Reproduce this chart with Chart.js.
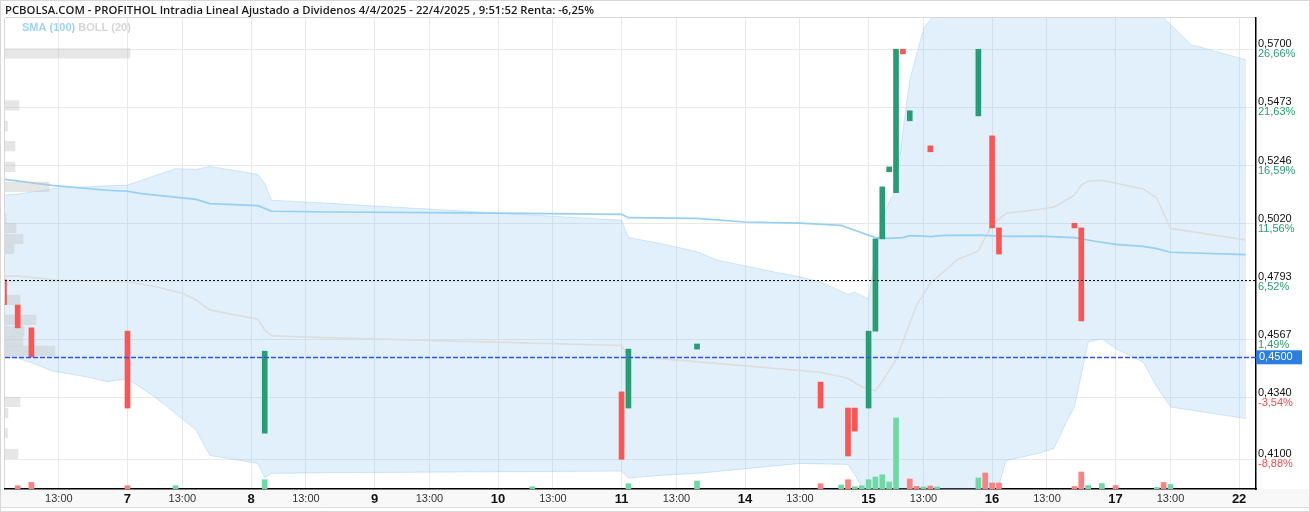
<!DOCTYPE html>
<html>
<head>
<meta charset="utf-8">
<title>PROFITHOL intradia</title>
<script src="https://cdn.jsdelivr.net/npm/chart.js@4.4.1/dist/chart.umd.min.js"></script>
<style>
  html, body { margin: 0; padding: 0; background: #fff; }
</style>
</head>
<body>
<canvas id="priceChart" width="1310" height="512"></canvas>
<script>
// Sessions on the x axis, 30 minute bars (9:00 .. 17:30 = 18 bars per session)
const days = ['4', '7', '8', '9', '10', '11', '14', '15', '16', '17', '22'];
const barsPerDay = 18;
const middaySlot = 8; // 13:00

// Right axis ticks and the % change labels printed under them
const priceTicks = [0.4100, 0.4340, 0.4567, 0.4793, 0.5020, 0.5246, 0.5473, 0.5700];
const pctLabels = ['-8,88%', '-3,54%', '1,49%', '6,52%', '11,56%', '16,59%', '21,63%', '26,66%'];
const lastPrice = 0.45;
const refPrice = 0.48;

// Candle bodies (bar index, open, close)
const candleBar   = [0, 2, 4, 18, 38, 90, 91, 101, 119, 123, 124, 126, 127, 128, 129, 130, 131, 132, 135, 142, 144, 145, 156, 157];
const candleOpen  = [0.4800, 0.4702, 0.4613, 0.4600, 0.4202, 0.4363, 0.4300, 0.4530, 0.4401, 0.4300, 0.4300, 0.4300, 0.4600, 0.4960, 0.5222, 0.5140, 0.5700, 0.5421, 0.5323, 0.5440, 0.5362, 0.5003, 0.5021, 0.5003];
const candleClose = [0.4703, 0.4613, 0.4500, 0.4300, 0.4522, 0.4100, 0.4530, 0.4550, 0.4300, 0.4113, 0.4210, 0.4600, 0.4960, 0.5163, 0.5241, 0.5700, 0.5682, 0.5460, 0.5300, 0.5700, 0.5003, 0.4901, 0.5003, 0.4640];

// Volume (thousand shares) and direction vs previous close
const volBar = [2, 4, 18, 25, 38, 77, 91, 101, 119, 122, 123, 124, 125, 126, 127, 128, 129, 130, 132, 133, 134, 135, 136, 142, 143, 144, 145, 156, 157, 158, 160, 162, 168, 169, 170];
const volK   = [3.3, 6.7, 3.3, 3.3, 9.3, 2.3, 5.3, 8, 5.3, 4, 9.3, 2.3, 3.3, 9.3, 12, 14.3, 7, 71, 10, 2.7, 2, 3, 2, 11, 16, 6, 6, 2.5, 17, 3.5, 5.5, 3.5, 1.5, 6.5, 4.5];
const volUp  = [0, 0, 0, 1, 1, 1, 1, 1, 0, 1, 0, 1, 1, 1, 1, 1, 1, 1, 0, 0, 1, 0, 1, 1, 0, 0, 0, 0, 0, 1, 1, 0, 1, 0, 1];

// Volume by price (left side profile)
const profPrice = [0.5684, 0.5481, 0.5400, 0.5322, 0.5241, 0.5163, 0.5040, 0.5003, 0.4960, 0.4921, 0.4722, 0.4644, 0.4600, 0.4561, 0.4523, 0.4324, 0.4280, 0.4203, 0.4121];
const profVol   = [125, 14, 2.5, 10, 10, 44, 1, 11, 18, 9, 15, 31, 19, 18, 50, 15, 3, 2.5, 13];

// SMA (100)
const smaBar = [0, 7, 15, 18, 20, 28, 30, 37, 39, 48, 72, 90, 91, 101, 108, 116, 122, 124, 127, 129, 131, 132, 134, 135, 137, 142, 146, 151, 156, 159, 162, 166, 168, 170, 181];
const smaVal = [0.5193, 0.5169, 0.5150, 0.5146, 0.5137, 0.5114, 0.5098, 0.5090, 0.5068, 0.5065, 0.5061, 0.5056, 0.5043, 0.5040, 0.5026, 0.5022, 0.5013, 0.4994, 0.4965, 0.4962, 0.4965, 0.4973, 0.4971, 0.4969, 0.4974, 0.4975, 0.4970, 0.4971, 0.4965, 0.4951, 0.4939, 0.4931, 0.4922, 0.4908, 0.4899];

// BOLL (20): upper, middle, lower
const upperBar = [0, 2, 8, 18, 25, 28, 30, 37, 38, 39, 48, 90, 91, 96, 101, 104, 113, 116, 119, 123, 124, 126, 127, 128, 129, 130, 131, 132, 133, 134, 136, 139, 142, 145, 151, 156, 158, 160, 162, 166, 168, 169, 173, 181];
const upperVal = [0.5131, 0.5135, 0.5159, 0.5170, 0.5234, 0.5231, 0.5243, 0.5212, 0.5177, 0.5111, 0.5098, 0.5033, 0.4966, 0.4940, 0.4910, 0.4877, 0.4827, 0.4812, 0.4791, 0.4744, 0.4752, 0.4726, 0.4900, 0.5040, 0.5105, 0.5150, 0.5380, 0.5580, 0.5680, 0.5780, 0.5850, 0.5960, 0.6000, 0.6010, 0.6030, 0.5960, 0.5900, 0.5870, 0.5880, 0.5850, 0.5845, 0.5823, 0.5718, 0.5659];
const midBar = [0, 2, 8, 18, 22, 26, 28, 30, 37, 38, 39, 48, 90, 91, 96, 119, 123, 125, 127, 128, 130, 133, 135, 139, 142, 143, 144, 146, 151, 153, 156, 157, 158, 160, 166, 168, 170, 181];
const midVal = [0.4815, 0.4815, 0.4799, 0.4793, 0.4774, 0.4748, 0.4722, 0.4683, 0.4647, 0.4605, 0.4582, 0.4574, 0.4544, 0.4499, 0.4492, 0.4440, 0.4416, 0.4383, 0.4367, 0.4404, 0.4488, 0.4702, 0.4787, 0.4880, 0.4913, 0.4965, 0.5015, 0.5060, 0.5076, 0.5084, 0.5131, 0.5170, 0.5185, 0.5189, 0.5155, 0.5120, 0.5001, 0.4956];
const lowerBar = [0, 2, 4, 7, 12, 15, 18, 22, 28, 30, 37, 38, 39, 48, 90, 91, 96, 101, 116, 123, 124, 125, 126, 127, 128, 130, 132, 134, 136, 139, 142, 144, 145, 146, 151, 153, 155, 156, 158, 160, 162, 166, 168, 170, 181];
const lowerVal = [0.4499, 0.4494, 0.4477, 0.4445, 0.4422, 0.4403, 0.4414, 0.4343, 0.4214, 0.4115, 0.4084, 0.4029, 0.4045, 0.4048, 0.4054, 0.4027, 0.4038, 0.4045, 0.4084, 0.4080, 0.4038, 0.3994, 0.3960, 0.3920, 0.3880, 0.3830, 0.3790, 0.3760, 0.3760, 0.3780, 0.3830, 0.3920, 0.3998, 0.4094, 0.4125, 0.4142, 0.4255, 0.4304, 0.4558, 0.4570, 0.4532, 0.4480, 0.4383, 0.4304, 0.4259];

const GREEN = '#289c74';
const RED = '#ff5454';
const AXIS_FONT = 'Arial, "Liberation Sans", sans-serif';

function fmtPrice(v) {
  return v.toFixed(4).replace('.', ',');
}

function pts(xs, ys) {
  return xs.map((x, i) => ({ x: x, y: ys[i] }));
}

/**
 * Background, title, legend, reference lines and the right axis extras
 */
const decorPlugin = {
  id: 'decor',
  beforeDraw(chart) {
    const ctx = chart.ctx;
    const area = chart.chartArea;
    ctx.save();
    ctx.fillStyle = '#fff';
    ctx.fillRect(0, 0, chart.width, chart.height);
    // x label strip
    ctx.fillStyle = '#f8f8f8';
    ctx.fillRect(0, area.bottom, chart.width, 18);
    ctx.strokeStyle = '#dcdcdc';
    ctx.lineWidth = 1;
    ctx.beginPath();
    ctx.moveTo(0, area.bottom + 18.5);
    ctx.lineTo(chart.width, area.bottom + 18.5);
    ctx.stroke();
    // frame
    ctx.strokeStyle = '#d8d8d8';
    ctx.strokeRect(0.5, 0.5, chart.width - 1, chart.height - 1);
    ctx.beginPath();
    ctx.moveTo(area.left - 0.5, area.top);
    ctx.lineTo(area.left - 0.5, area.bottom);
    ctx.moveTo(area.left, area.top - 0.5);
    ctx.lineTo(area.right, area.top - 0.5);
    ctx.stroke();
    ctx.restore();
  },
  afterDatasetsDraw(chart) {
    const ctx = chart.ctx;
    const area = chart.chartArea;
    const y = chart.scales.y;
    ctx.save();
    ctx.lineWidth = 1;
    // reference (previous close) dotted line
    let py = Math.round(y.getPixelForValue(refPrice)) + 0.5;
    ctx.strokeStyle = '#111';
    ctx.setLineDash([2, 2]);
    ctx.beginPath();
    ctx.moveTo(area.left, py);
    ctx.lineTo(area.right, py);
    ctx.stroke();
    // last price dashed line
    py = Math.round(y.getPixelForValue(lastPrice)) + 0.5;
    ctx.strokeStyle = '#3050ff';
    ctx.lineWidth = 1.4;
    ctx.setLineDash([5, 2]);
    ctx.beginPath();
    ctx.moveTo(area.left, py);
    ctx.lineTo(area.right, py);
    ctx.stroke();
    ctx.restore();
  },
  afterDraw(chart) {
    const ctx = chart.ctx;
    const area = chart.chartArea;
    const y = chart.scales.y;
    ctx.save();
    // title
    ctx.fillStyle = '#1a1a1a';
    ctx.font = '600 11.3px "Open Sans", sans-serif';
    ctx.textBaseline = 'middle';
    ctx.textAlign = 'left';
    ctx.fillText('PCBOLSA.COM - PROFITHOL Intradia Lineal Ajustado a Dividenos 4/4/2025 - 22/4/2025 , 9:51:52 Renta: -6,25%', 5, 11);
    // indicator legend
    ctx.font = 'bold 11px ' + AXIS_FONT;
    ctx.fillStyle = '#9fd3f7';
    ctx.fillText('SMA (100)', 22, 28);
    const w = ctx.measureText('SMA (100) ').width;
    ctx.fillStyle = '#d6d6d6';
    ctx.fillText('BOLL (20)', 22 + w, 28);
    // % labels under the price ticks
    ctx.font = '11px ' + AXIS_FONT;
    priceTicks.forEach((v, i) => {
      ctx.fillStyle = v >= lastPrice ? '#2a9d6e' : '#ff4a4a';
      ctx.fillText(pctLabels[i], area.right + 2, y.getPixelForValue(v) + 5);
    });
    // last price tag
    const ty = y.getPixelForValue(lastPrice);
    ctx.fillStyle = '#2b7de0';
    ctx.fillRect(area.right, ty - 6.5, 46, 14);
    ctx.fillStyle = '#fff';
    ctx.fillText(fmtPrice(lastPrice), area.right + 3, ty + 0.5);
    ctx.restore();
  }
};

function initPriceChart() {
  const el = document.getElementById('priceChart');
  const ctx = el.getContext('2d');

  const xTicks = [];
  days.forEach((d, i) => {
    xTicks.push(i * barsPerDay);
    xTicks.push(i * barsPerDay + middaySlot);
  });

  new Chart(ctx, {
    data: {
      datasets: [
        {
          type: 'bar',
          label: 'Precio',
          data: candleBar.map((b, i) => ({ x: b, y: [candleOpen[i], candleClose[i]] })),
          backgroundColor: candleBar.map((b, i) => candleClose[i] >= candleOpen[i] ? GREEN : RED),
          barThickness: 5,
          grouped: false,
          xAxisID: 'x',
          yAxisID: 'y',
          order: 0
        },
        {
          type: 'bar',
          label: 'Volumen',
          data: volBar.map((b, i) => ({ x: b, y: volK[i] })),
          backgroundColor: volUp.map(u => u ? '#6fd9a6' : '#ff8080'),
          barThickness: 5,
          grouped: false,
          xAxisID: 'x',
          yAxisID: 'yVol',
          order: 1
        },
        {
          type: 'bar',
          label: 'Perfil',
          indexAxis: 'y',
          data: profPrice.map((p, i) => ({ x: profVol[i], y: p })),
          backgroundColor: 'rgba(195,195,195,0.42)',
          barThickness: 9.5,
          grouped: false,
          xAxisID: 'xProf',
          yAxisID: 'y',
          order: 2
        },
        {
          type: 'line',
          label: 'SMA (100)',
          data: pts(smaBar, smaVal),
          borderColor: '#96cff6',
          borderWidth: 1.7,
          pointRadius: 0,
          tension: 0,
          xAxisID: 'x',
          yAxisID: 'y',
          order: 3
        },
        {
          type: 'line',
          label: 'BOLL media',
          data: pts(midBar, midVal),
          borderColor: '#dddddd',
          borderWidth: 1.6,
          pointRadius: 0,
          tension: 0,
          xAxisID: 'x',
          yAxisID: 'y',
          order: 4
        },
        {
          type: 'line',
          label: 'BOLL sup',
          data: pts(upperBar, upperVal),
          borderColor: 'rgba(135,195,237,0.35)',
          borderWidth: 1,
          backgroundColor: 'rgba(135,195,237,0.25)',
          fill: '+1',
          pointRadius: 0,
          tension: 0,
          xAxisID: 'x',
          yAxisID: 'y',
          order: 5
        },
        {
          type: 'line',
          label: 'BOLL inf',
          data: pts(lowerBar, lowerVal),
          borderColor: 'rgba(135,195,237,0.35)',
          borderWidth: 1,
          pointRadius: 0,
          tension: 0,
          xAxisID: 'x',
          yAxisID: 'y',
          order: 6
        }
      ]
    },
    options: {
      responsive: false,
      animation: false,
      devicePixelRatio: 1,
      layout: { padding: { top: 18, left: 5, right: 0, bottom: 0 } },
      plugins: {
        legend: { display: false },
        tooltip: { enabled: false }
      },
      scales: {
        x: {
          type: 'linear',
          position: 'bottom',
          offset: false,
          min: 0.15,
          max: 182.46,
          afterBuildTicks: s => {
            s.ticks = xTicks.filter(v => v >= s.min && v <= s.max).map(v => ({ value: v }));
          },
          afterFit: s => { s.height = 23; },
          grid: { color: '#e9e9e9', drawTicks: false, offset: false },
          border: { color: '#000', width: 1.5 },
          ticks: {
            padding: 3,
            maxRotation: 0,
            autoSkip: false,
            color: ctx => (ctx.tick && ctx.tick.value % barsPerDay === 0) ? '#111' : '#333',
            font: ctx => (ctx.tick && ctx.tick.value % barsPerDay === 0)
              ? { family: AXIS_FONT, size: 13, weight: 'bold' }
              : { family: AXIS_FONT, size: 11 },
            callback: v => (v % barsPerDay === 0) ? days[v / barsPerDay] : '13:00'
          }
        },
        y: {
          type: 'linear',
          position: 'right',
          offset: false,
          min: 0.39841,
          max: 0.58221,
          afterBuildTicks: s => { s.ticks = priceTicks.map(v => ({ value: v })); },
          afterFit: s => { s.width = 54; },
          grid: { color: '#e9e9e9', drawTicks: false, offset: false },
          border: { color: '#000', width: 1.5 },
          ticks: {
            padding: 2,
            labelOffset: -5,
            color: '#111',
            font: { family: AXIS_FONT, size: 11 },
            callback: v => fmtPrice(v)
          }
        },
        yVol: {
          type: 'linear',
          display: false,
          offset: false,
          min: 0,
          max: 471
        },
        xProf: {
          type: 'linear',
          display: false,
          offset: false,
          min: 0,
          max: 1251
        }
      }
    },
    plugins: [decorPlugin]
  });
}

initPriceChart();
</script>
</body>
</html>
